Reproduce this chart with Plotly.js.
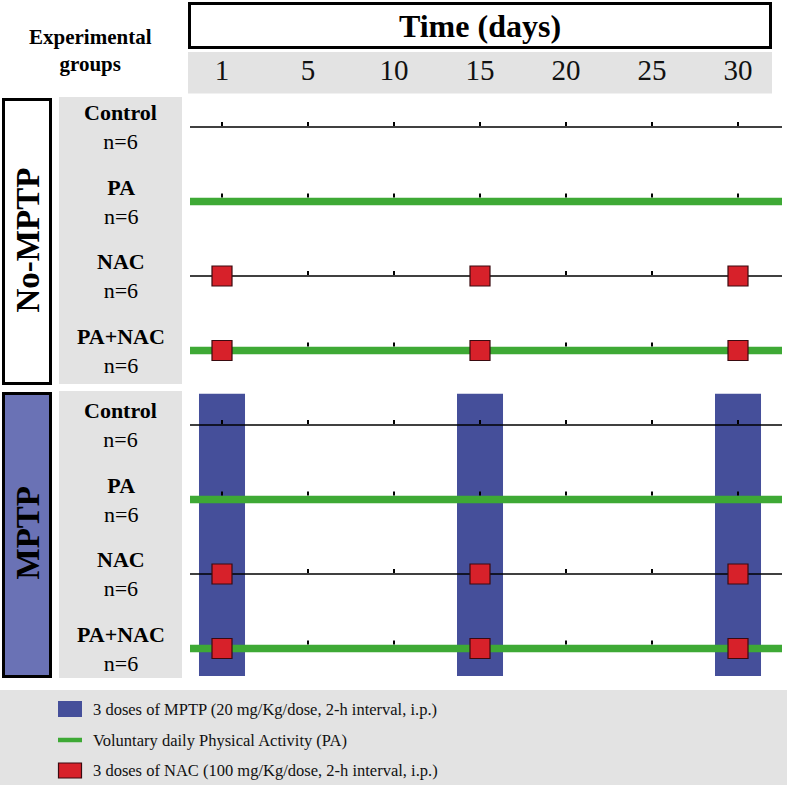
<!DOCTYPE html>
<html>
<head>
<meta charset="utf-8">
<script src="https://cdn.plot.ly/plotly-3.0.1.min.js"></script>
<style>html,body{margin:0;padding:0;background:#fff;}#chart{width:787px;height:787px;}</style>
</head>
<body>
<div id="chart"></div>
<script>
// ---------------- data ----------------
const days = [1, 5, 10, 15, 20, 25, 30];
const groupNames = ['No-MPTP', 'MPTP'];
const treatments = ['Control', 'PA', 'NAC', 'PA+NAC'];
const nPerGroup = [6, 6, 6, 6, 6, 6, 6, 6];
const hasMPTP = [false, true];
const hasPA = [false, true, false, true];
const hasNAC = [false, false, true, true];
const mptpDays = [1, 15, 30];
const nacDays = [1, 15, 30];
const legendLabels = [
  '3 doses of MPTP (20 mg/Kg/dose, 2-h interval, i.p.)',
  'Voluntary daily Physical Activity (PA)',
  '3 doses of NAC (100 mg/Kg/dose, 2-h interval, i.p.)'
];
const xTitle = 'Time (days)';
const leftTitle = 'Experimental<br>groups';

// ---------------- styles ----------------
const W = 787, H = 787;
const FONT = '"Liberation Serif", "Times New Roman", serif';
const BLUE = '#454f9a', BOX_BLUE = '#6a72b5', GREEN = '#3ea935', RED = '#d7212a', GRAY = '#e3e3e3';
const px = v => v / W;
const py = v => 1 - v / H;
const dayIdx = d => days.indexOf(d);

// rows: group g, treatment t -> row index
const rows = [];
groupNames.forEach((g, gi) => treatments.forEach((t, ti) => rows.push({g: gi, t: ti, r: gi * treatments.length + ti})));

const traces = [];
const shapes = [];
const annotations = [];

// MPTP injection bars (span rows of MPTP groups)
groupNames.forEach((g, gi) => {
  if (!hasMPTP[gi]) return;
  const first = gi * treatments.length, last = first + treatments.length - 1;
  const padTop = 0.42, padBot = 0.37;
  traces.push({
    type: 'bar', x: mptpDays.map(dayIdx),
    base: mptpDays.map(() => first - padTop),
    y: mptpDays.map(() => last - first + padTop + padBot),
    width: 0.535, marker: {color: BLUE, line: {width: 0}},
    hoverinfo: 'skip', showlegend: false
  });
});

const XR = [(190 - 222) / 86, (782 - 222) / 86];

// timeline lines
rows.forEach(row => {
  const pa = hasPA[row.t];
  traces.push({
    type: 'scatter', mode: 'lines', x: XR, y: [row.r, row.r],
    line: {color: pa ? GREEN : '#000', width: pa ? 7.5 : 1.5},
    hoverinfo: 'skip', showlegend: false, cliponaxis: false
  });
  const half = pa ? 3.75 : 0.75;
  days.forEach(d => {
    if (hasNAC[row.t] && nacDays.includes(d)) return;
    shapes.push({
      type: 'rect', xref: 'x', yref: 'y',
      xsizemode: 'pixel', xanchor: dayIdx(d), x0: -1, x1: 1,
      ysizemode: 'pixel', yanchor: row.r, y0: half + 0.25, y1: half + 4.25,
      fillcolor: '#000', line: {width: 0}, layer: 'above'
    });
  });
});

// NAC squares
const nx = [], ny = [];
rows.forEach(row => { if (hasNAC[row.t]) nacDays.forEach(d => { nx.push(dayIdx(d)); ny.push(row.r); }); });
traces.push({
  type: 'scatter', mode: 'markers', x: nx, y: ny,
  marker: {symbol: 'square', size: 20, color: RED, line: {color: '#3a0a10', width: 1.2}},
  hoverinfo: 'skip', showlegend: false, cliponaxis: false
});

// row labels
rows.forEach(row => {
  annotations.push({
    xref: 'paper', yref: 'y', x: px(120.5), y: row.r, xanchor: 'center', yanchor: 'middle',
    text: '<b>' + treatments[row.t] + '</b><br>n=' + nPerGroup[row.r],
    showarrow: false, align: 'center', font: {family: FONT, size: 22, color: '#000'}
  });
});

// header box & band
shapes.push({type: 'rect', xref: 'paper', yref: 'paper', x0: px(189.5), x1: px(770.5), y0: py(3.5), y1: py(47.5),
  fillcolor: '#fff', line: {color: '#000', width: 3}, layer: 'below'});
shapes.push({type: 'rect', xref: 'paper', yref: 'paper', x0: px(188), x1: px(772), y0: py(52), y1: py(93.5),
  fillcolor: GRAY, line: {width: 0}, layer: 'below'});

// left group boxes and gray label panels
const grpBox = [[99.5, 383.5], [393.5, 676.5]];
const grpPanel = [[97, 384], [391, 678]];
const grpText = [240, 533];
groupNames.forEach((g, gi) => {
  shapes.push({type: 'rect', xref: 'paper', yref: 'paper', x0: px(3.5), x1: px(50.5), y0: py(grpBox[gi][0]), y1: py(grpBox[gi][1]),
    fillcolor: hasMPTP[gi] ? BOX_BLUE : '#fff', line: {color: '#000', width: 3}, layer: 'below'});
  shapes.push({type: 'rect', xref: 'paper', yref: 'paper', x0: px(59), x1: px(182), y0: py(grpPanel[gi][0]), y1: py(grpPanel[gi][1]),
    fillcolor: GRAY, line: {width: 0}, layer: 'below'});
  annotations.push({xref: 'paper', yref: 'paper', x: px(27.5), y: py(grpText[gi]), xanchor: 'center', yanchor: 'middle',
    text: '<b>' + g + '</b>', textangle: -90, showarrow: false, font: {family: FONT, size: 33, color: '#000'}});
});

annotations.push({xref: 'paper', yref: 'paper', x: px(90), y: py(50), xanchor: 'center', yanchor: 'middle',
  text: '<b>' + leftTitle + '</b>', showarrow: false, align: 'center', font: {family: FONT, size: 21, color: '#000'}});

// legend
shapes.push({type: 'rect', xref: 'paper', yref: 'paper', x0: 0, x1: 1, y0: py(690), y1: py(785),
  fillcolor: GRAY, line: {width: 0}, layer: 'below'});
const legY = [709, 740, 770.5];
shapes.push({type: 'rect', xref: 'paper', yref: 'paper', x0: px(58), x1: px(82), y0: py(701), y1: py(717),
  fillcolor: BLUE, line: {width: 0}});
shapes.push({type: 'line', xref: 'paper', yref: 'paper', x0: px(58), x1: px(82), y0: py(740), y1: py(740),
  line: {color: GREEN, width: 4.5}});
shapes.push({type: 'rect', xref: 'paper', yref: 'paper', x0: px(58.5), x1: px(81.5), y0: py(763), y1: py(778),
  fillcolor: RED, line: {color: '#3a0a10', width: 1.2}});
legendLabels.forEach((t, i) => {
  annotations.push({xref: 'paper', yref: 'paper', x: px(91), y: py(legY[i]), xanchor: 'left', yanchor: 'middle',
    text: t, showarrow: false, font: {family: FONT, size: 16.5, color: '#111'}});
});

const layout = {
  width: W, height: H,
  margin: {l: 0, r: 0, t: 0, b: 0, pad: 0},
  paper_bgcolor: '#fff', plot_bgcolor: 'rgba(0,0,0,0)',
  showlegend: false,
  barmode: 'overlay',
  title: {text: '<b>' + xTitle + '</b>', x: px(480), y: py(26), xref: 'paper', yref: 'paper',
    xanchor: 'center', yanchor: 'middle', font: {family: FONT, size: 32, color: '#000'}},
  xaxis: {
    domain: [px(190), px(782)], range: XR, side: 'top', anchor: 'y',
    tickmode: 'array', tickvals: days.map(dayIdx), ticktext: days.map(String),
    ticks: '', ticklabelstandoff: 6, showgrid: false, zeroline: false, showline: false,
    tickfont: {family: FONT, size: 29, color: '#111'}, fixedrange: true
  },
  yaxis: {
    domain: [0, py(93)], range: [(787 - 127) / 74.5, (93 - 127) / 74.5],
    visible: false, showgrid: false, zeroline: false, fixedrange: true
  },
  shapes: shapes,
  annotations: annotations
};

Plotly.newPlot('chart', traces, layout, {displayModeBar: false, staticPlot: true});
</script>
</body>
</html>
